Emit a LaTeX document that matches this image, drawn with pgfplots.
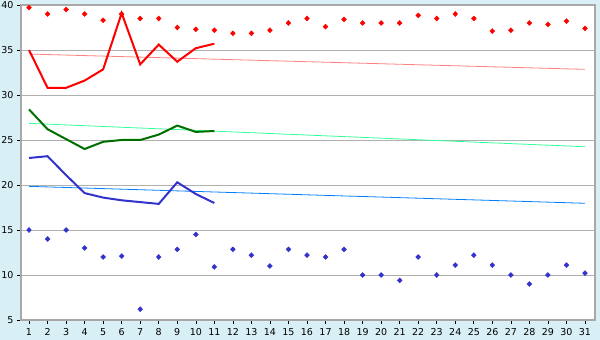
\documentclass[border=0pt]{standalone}
\usepackage{pgfplots}
\pgfplotsset{compat=1.18}
\usepackage{fontspec}
\setmainfont{DejaVu Sans}
\definecolor{bgblue}{HTML}{D8EFF6}
\definecolor{gridgray}{HTML}{B0B0B0}
\definecolor{bordergray}{HTML}{A8A8A8}
\definecolor{tred}{HTML}{FF8080}
\definecolor{dgreen}{HTML}{006F00}
\definecolor{tgreen}{HTML}{33FF99}
\definecolor{dblue}{HTML}{3333CC}
\definecolor{tblue}{HTML}{0080FF}
\begin{document}
\begin{tikzpicture}
\fill[bgblue] (-21pt,-20pt) rectangle (579pt,320pt);
\begin{axis}[at={(0,0)}, anchor=south west, scale only axis,
  width=574pt, height=315pt,
  xmin=0.568, xmax=31.54, ymin=5, ymax=40,
  xtick={1,...,31}, ytick={5,10,...,40},
  ymajorgrids, grid style={gridgray, line width=0.9pt},
  axis line style={bordergray, line width=1.2pt},
  tick style={black, line width=0.6pt},
  tick align=outside, major tick length=4pt, tick pos=left,
  tick label style={font=\fontsize{9.5}{10}\selectfont},
  xticklabel style={yshift=-1pt},
  /pgf/number format/assume math mode=true,
  axis background/.style={fill=white},
]
% trend lines
\addplot[tred, line width=0.8pt] coordinates {(1,34.55) (31,32.85)};
\addplot[tgreen, line width=0.8pt] coordinates {(1,26.85) (31,24.25)};
\addplot[tblue, line width=0.8pt] coordinates {(1,19.85) (31,17.97)};
% max dots
\addplot[only marks, red, mark=diamond*, mark size=2.5pt, mark options={xscale=1.3}] coordinates {
(1,39.7) (2,39.0) (3,39.5) (4,39.0) (5,38.3) (6,39.0) (7,38.5) (8,38.5) (9,37.5) (10,37.3)
(11,37.2) (12,36.85) (13,36.85) (14,37.2) (15,38.0) (16,38.5) (17,37.6) (18,38.4) (19,38.0) (20,38.0)
(21,38.0) (22,38.85) (23,38.5) (24,39.0) (25,38.5) (26,37.1) (27,37.2) (28,38.0) (29,37.85) (30,38.2) (31,37.4)};
% min dots
\addplot[only marks, dblue, mark=diamond*, mark size=2.5pt, mark options={xscale=1.3}] coordinates {
(1,15) (2,14) (3,15) (4,13) (5,12) (6,12.1) (7,6.2) (8,12) (9,12.85) (10,14.5)
(11,10.9) (12,12.85) (13,12.2) (14,11.0) (15,12.85) (16,12.2) (17,12.0) (18,12.85) (19,10) (20,10)
(21,9.4) (22,12.0) (23,10) (24,11.1) (25,12.2) (26,11.1) (27,10) (28,9.0) (29,10) (30,11.1) (31,10.2)};
% lines
\addplot[red, line width=2pt] coordinates {
(1,35.0) (2,30.8) (3,30.8) (4,31.6) (5,32.85) (6,39.1) (7,33.4) (8,35.6) (9,33.7) (10,35.2) (11,35.7)};
\addplot[dgreen, line width=2pt] coordinates {
(1,28.4) (2,26.2) (3,25.1) (4,24.0) (5,24.8) (6,25.0) (7,25.0) (8,25.6) (9,26.6) (10,25.9) (11,26.0)};
\addplot[dblue, line width=2pt] coordinates {
(1,23.0) (2,23.2) (3,21.1) (4,19.1) (5,18.6) (6,18.3) (7,18.1) (8,17.9) (9,20.3) (10,19.0) (11,18.0)};
\end{axis}
\pgfresetboundingbox
\path (-21pt,-20pt) rectangle (579pt,320pt);
\end{tikzpicture}
\end{document}
